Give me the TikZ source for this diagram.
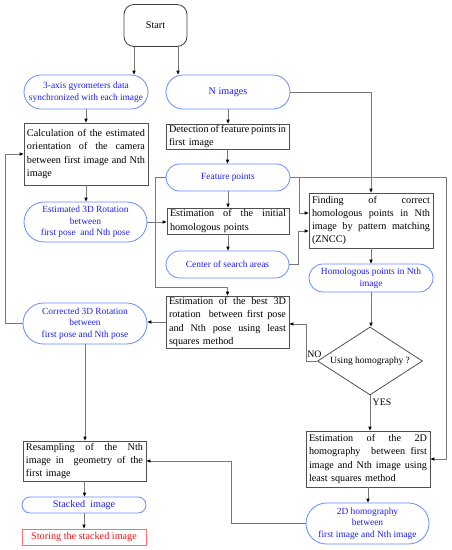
\documentclass[tikz,border=0pt]{standalone}
\usepackage{fontspec}
\setmainfont{Liberation Serif}
\usetikzlibrary{arrows.meta,shapes.geometric}
\definecolor{lineg}{RGB}{120,120,120}
\definecolor{boxg}{RGB}{80,80,80}
\definecolor{bluet}{RGB}{30,30,235}
\definecolor{blueb}{RGB}{100,140,255}
\definecolor{redt}{RGB}{235,20,20}
\definecolor{redb}{RGB}{255,110,110}
\tolerance=10000 \hbadness=10000
\newcommand\jl[2]{\leavevmode\hbox to #1{#2}}
\begin{document}
\begin{tikzpicture}[x=1pt,y=-1pt,
  box/.style={draw=boxg, line width=0.8pt, inner xsep=3pt, inner ysep=1pt, align=left, font=\fontsize{10.2}{13.3}\selectfont},
  stad/.style={draw=blueb, line width=0.8pt, rounded corners=#1, align=center, text=bluet, font=\fontsize{9.4}{11.7}\selectfont, inner sep=1pt},
  arr/.style={draw=lineg, line width=0.8pt, -{Triangle[length=4pt,width=3.2pt,color=black]}},
  lab/.style={font=\fontsize{9.8}{11}\selectfont, inner sep=0pt}
]
\useasboundingbox (0,0) rectangle (451,550);
% nodes
\node[draw=boxg!80!black, line width=0.8pt, rounded corners=10pt, minimum width=63pt, minimum height=42pt, font=\fontsize{10.2}{12}\selectfont] (start) at (155.5,25.5) {Start};
\node[stad=17pt, minimum width=124pt, minimum height=34pt] (gyro) at (86,92) {3-axis gyrometers data\\synchronized with each image};
\node[stad=17pt, minimum width=124pt, minimum height=34pt, font=\fontsize{10.2}{12}\selectfont] (nimg) at (228,92) {N images};
\node[box, text width=118pt, minimum height=62pt] (calc) at (86,154) {\jl{118pt}{Calculation\hfill of\hfill the\hfill estimated}\\\jl{118pt}{orientation\hfill of\hfill the\hfill camera}\\\jl{118pt}{between\hfill first\hfill image\hfill and\hfill Nth}\\image};
\node[box, text width=117pt, minimum height=25pt] (detect) at (227.5,136.5) {\jl{117pt}{Detection\hfill of\hfill feature\hfill points\hfill in}\\first image};
\node[stad=13.5pt, minimum width=124pt, minimum height=27pt] (feat) at (228,177.5) {Feature points};
\node[stad=20pt, minimum width=123pt, minimum height=40pt] (est3d) at (85.5,222) {Estimated 3D Rotation\\between\\first pose\ \ and Nth pose};
\node[box, text width=116pt, minimum height=26pt] (init) at (228,221) {\jl{116pt}{Estimation\hfill of\hfill the\hfill initial}\\homologous points};
\node[stad=13.5pt, minimum width=123pt, minimum height=27pt] (center) at (227.5,264.5) {Center of search areas};
\node[box, text width=118pt, minimum height=55pt] (find) at (371,220.5) {\jl{118pt}{Finding\hfill of\hfill correct}\\\jl{118pt}{homologous\hfill points\hfill in\hfill Nth}\\\jl{118pt}{image\hfill by\hfill pattern\hfill matching}\\(ZNCC)};
\node[stad=14pt, minimum width=124pt, minimum height=28pt] (homol) at (371,278) {Homologous points in Nth\\image};
\node[draw=boxg, line width=0.8pt, diamond, aspect=1.5, minimum width=105pt, minimum height=68pt, inner sep=0pt, font=\fontsize{9.5}{11}\selectfont] (dia) at (370,361) {Using homography ?};
\node[box, text width=117pt, minimum height=52pt] (best) at (227.5,322) {\jl{117pt}{Estimation\hfill of\hfill the\hfill best\hfill 3D}\\\jl{117pt}{rotation\hfill\hfill between\hfill first\hfill pose}\\\jl{117pt}{and\hfill Nth\hfill pose\hfill using\hfill least}\\squares method};
\node[stad=20.5pt, minimum width=124pt, minimum height=41pt] (corr) at (85,323.5) {Corrected 3D Rotation\\between\\first pose and Nth pose};
\node[box, text width=118pt, minimum height=56pt] (est2d) at (368,459) {\jl{118pt}{Estimation\hfill of\hfill the\hfill 2D}\\\jl{118pt}{homography\hfill\hfill between\hfill first}\\\jl{118pt}{image\hfill and\hfill Nth\hfill image\hfill using}\\least squares method};
\node[stad=20.5pt, minimum width=123pt, minimum height=41pt] (homog) at (367.5,523.5) {2D homography\\between\\first image and Nth image};
\node[box, text width=117pt, minimum height=40pt] (resamp) at (84.5,461) {\jl{117pt}{Resampling\hfill of\hfill the\hfill Nth}\\\jl{117pt}{image\hfill in\hfill\hfill geometry\hfill of\hfill the}\\first image};
\node[stad=8pt, minimum width=124pt, minimum height=16pt, font=\fontsize{10.2}{12}\selectfont] (stacked) at (84,505) {Stacked\ \ image};
\node[draw=redb, line width=0.8pt, text=redt, minimum width=124pt, minimum height=16pt, inner sep=1pt, font=\fontsize{10.2}{12}\selectfont] (storing) at (84,537) {Storing the stacked image};
\node[lab] (no) at (314.5,354.5) {NO};
\node[lab] (yes) at (382,402) {YES};
% helper coordinates
\coordinate (fr) at (446,177.5);
\coordinate (fb) at (299,177.5);
\coordinate (fbd) at (299,213);
\coordinate (fl) at (155,177.5);
\coordinate (fld) at (155,287);
\coordinate (cr1) at (298,264.5);
\coordinate (cr2) at (298,231);
\coordinate (nl1) at (306,361);
\coordinate (nl2) at (306,324);
\coordinate (c1) at (5,323.5);
\coordinate (c2) at (5,154);
\coordinate (h1) at (231,523.5);
\coordinate (h2) at (231,461);
% connectors
\draw[arr] ([xshift=-21.5pt]start.south) -- ([xshift=-21.5pt]start.south |- gyro.north);
\draw[arr] ([xshift=22.5pt]start.south) -- ([xshift=22.5pt]start.south |- nimg.north);
\draw[arr] (gyro.south) -- (gyro.south |- calc.north);
\draw[arr] (nimg.south) -- (nimg.south |- detect.north);
\draw[arr] (nimg.east) -| (find.north);
\draw[arr] (detect.south) -- (detect.south |- feat.north);
\draw[arr] (feat.south) -- (feat.south |- init.north);
\draw[arr] (feat.east) -- (fr) |- (est2d.east);
\draw[arr] (fb) -- (fbd) -- (fbd -| find.west);
\draw[arr] (feat.west) -- (fl) -- (fld) -| (best.north);
\draw[arr] (est3d.east) -- (est3d.east -| init.west);
\draw[arr] (calc.south) -- (calc.south |- est3d.north);
\draw[arr] (init.south) -- (init.south |- center.north);
\draw[arr] (center.east) -- (cr1) -- (cr2) -- (cr2 -| find.west);
\draw[arr] (find.south) -- (find.south |- homol.north);
\draw[arr] (homol.south) -- (homol.south |- dia.north);
\draw[arr] (dia.west) -- (nl1) -- (nl2) -- (nl2 -| best.east);
\draw[arr] (dia.south) -- (dia.south |- est2d.north);
\draw[arr] (best.west) -- (best.west -| corr.east);
\draw[arr] (corr.west) -- (c1) -- (c2) -- (c2 -| calc.west);
\draw[arr] (corr.south) -- (corr.south |- resamp.north);
\draw[arr] (est2d.south) -- (est2d.south |- homog.north);
\draw[arr] (homog.west) -- (h1) -- (h2) -- (h2 -| resamp.east);
\draw[arr] (resamp.south) -- (resamp.south |- stacked.north);
\draw[arr] (stacked.south) -- (stacked.south |- storing.north);
\end{tikzpicture}
\end{document}
